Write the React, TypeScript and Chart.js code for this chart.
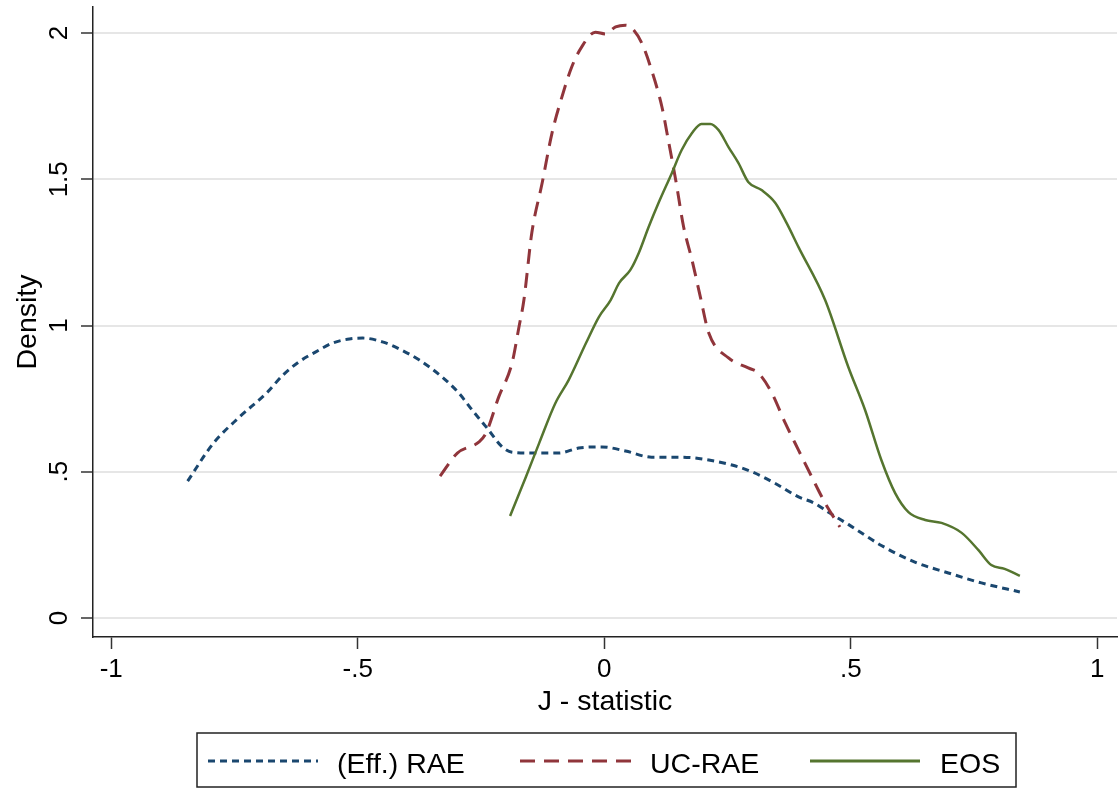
import React, { useEffect, useRef } from "react";
import { Chart, registerables } from "chart.js";

Chart.register(...registerables);

// ---- data ----
const xTickValues = [-1, -0.5, 0, 0.5, 1];
const xTickLabels = ["-1", "-.5", "0", ".5", "1"];
const yTickValues = [0, 0.5, 1, 1.5, 2];
const yTickLabels = ["0", ".5", "1", "1.5", "2"];

const seriesNames = ["(Eff.) RAE", "UC-RAE", "EOS"];

const raeX = [-0.845, -0.794, -0.74, -0.685, -0.652, -0.619, -0.585, -0.551, -0.517, -0.49, -0.45, -0.416, -0.375, -0.329, -0.295, -0.268, -0.238, -0.207, -0.187, -0.147, -0.092, -0.052, -0.005, 0.043, 0.096, 0.157, 0.212, 0.259, 0.299, 0.347, 0.394, 0.427, 0.454, 0.495, 0.562, 0.63, 0.698, 0.765, 0.843];
const raeY = [0.468, 0.595, 0.687, 0.769, 0.83, 0.876, 0.91, 0.94, 0.954, 0.957, 0.944, 0.92, 0.882, 0.824, 0.769, 0.711, 0.65, 0.585, 0.567, 0.564, 0.564, 0.581, 0.585, 0.571, 0.55, 0.55, 0.54, 0.523, 0.5, 0.46, 0.414, 0.392, 0.362, 0.32, 0.248, 0.191, 0.154, 0.12, 0.089];

const ucX = [-0.333, -0.298, -0.254, -0.24, -0.214, -0.187, -0.173, -0.163, -0.147, -0.126, -0.106, -0.086, -0.066, -0.046, -0.018, 0.002, 0.023, 0.043, 0.056, 0.076, 0.096, 0.117, 0.131, 0.145, 0.161, 0.178, 0.195, 0.212, 0.252, 0.292, 0.313, 0.34, 0.367, 0.394, 0.421, 0.448, 0.478];
const ucY = [0.485, 0.564, 0.602, 0.632, 0.756, 0.872, 0.995, 1.087, 1.316, 1.487, 1.658, 1.781, 1.884, 1.952, 2.003, 1.997, 2.021, 2.027, 2.017, 1.966, 1.873, 1.747, 1.624, 1.497, 1.337, 1.224, 1.097, 0.974, 0.889, 0.855, 0.837, 0.769, 0.667, 0.574, 0.482, 0.393, 0.311];

const eosX = [-0.191, -0.159, -0.132, -0.099, -0.072, -0.037, -0.011, 0.013, 0.03, 0.053, 0.07, 0.09, 0.11, 0.137, 0.157, 0.178, 0.197, 0.215, 0.232, 0.252, 0.272, 0.292, 0.319, 0.347, 0.37, 0.394, 0.448, 0.495, 0.529, 0.562, 0.59, 0.617, 0.651, 0.684, 0.725, 0.759, 0.785, 0.812, 0.843];
const eosY = [0.349, 0.482, 0.598, 0.735, 0.814, 0.94, 1.029, 1.087, 1.145, 1.19, 1.248, 1.337, 1.419, 1.521, 1.6, 1.658, 1.689, 1.689, 1.668, 1.61, 1.556, 1.491, 1.463, 1.419, 1.35, 1.268, 1.087, 0.858, 0.711, 0.54, 0.427, 0.362, 0.335, 0.325, 0.291, 0.232, 0.181, 0.168, 0.144];

const colors = ["#1a476f", "#90353b", "#55752f"];
const dashes: number[][] = [[7, 5], [15, 9], []];
const FONT = "'Liberation Sans', Arial, Helvetica, sans-serif";

const toPoints = (xs: number[], ys: number[]) => xs.map((x, i) => ({ x, y: ys[i] }));

const decorPlugin = {
  id: "decor",
  afterDraw(chart: any) {
    const ctx = chart.ctx as CanvasRenderingContext2D;
    const xs = chart.scales.x;
    const ys = chart.scales.y;
    ctx.save();
    ctx.fillStyle = "#000";
    // x tick labels
    ctx.font = `26px ${FONT}`;
    ctx.textAlign = "center";
    ctx.textBaseline = "alphabetic";
    xTickValues.forEach((v, i) => {
      ctx.fillText(xTickLabels[i], xs.getPixelForValue(v), 677);
    });
    // y tick labels (rotated)
    yTickValues.forEach((v, i) => {
      ctx.save();
      ctx.translate(67, ys.getPixelForValue(v));
      ctx.rotate(-Math.PI / 2);
      ctx.fillText(yTickLabels[i], 0, 0);
      ctx.restore();
    });
    // axis titles
    ctx.font = `28.5px ${FONT}`;
    ctx.fillText("J - statistic", (chart.chartArea.left + chart.chartArea.right) / 2, 710);
    ctx.save();
    ctx.translate(36, (chart.chartArea.top + chart.chartArea.bottom) / 2);
    ctx.rotate(-Math.PI / 2);
    ctx.fillText("Density", 0, 0);
    ctx.restore();
    // legend box
    ctx.strokeStyle = "#222";
    ctx.lineWidth = 1.5;
    ctx.strokeRect(197, 733, 1016 - 197, 787 - 733);
    const keyX = [[208, 318], [520, 631], [810, 920]];
    const textX = [337, 650, 940];
    ctx.font = `28.5px ${FONT}`;
    ctx.textAlign = "left";
    seriesNames.forEach((name, i) => {
      ctx.save();
      ctx.strokeStyle = colors[i];
      ctx.lineWidth = 3;
      ctx.setLineDash(dashes[i]);
      ctx.beginPath();
      ctx.moveTo(keyX[i][0], 761);
      ctx.lineTo(keyX[i][1], 761);
      ctx.stroke();
      ctx.restore();
      ctx.fillStyle = "#000";
      ctx.fillText(name, textX[i], 773);
    });
    ctx.restore();
  },
};

export default function App() {
  const ref = useRef<HTMLCanvasElement | null>(null);
  useEffect(() => {
    if (!ref.current) return;
    const datasets = [
      toPoints(raeX, raeY),
      toPoints(ucX, ucY),
      toPoints(eosX, eosY),
    ].map((data, i) => ({
      label: seriesNames[i],
      data,
      borderColor: colors[i],
      backgroundColor: colors[i],
      borderWidth: i === 2 ? 2.5 : 3,
      borderDash: dashes[i],
      pointRadius: 0,
      fill: false,
      cubicInterpolationMode: "monotone" as const,
      order: 3 - i,
    }));
    const chart = new Chart(ref.current, {
      type: "line",
      data: { datasets },
      options: {
        animation: false,
        responsive: false,
        devicePixelRatio: 1,
        layout: { padding: { left: 0, right: 2, top: 7, bottom: 0 } },
        plugins: { legend: { display: false }, tooltip: { enabled: false }, title: { display: false } },
        scales: {
          x: {
            type: "linear",
            min: -1.037,
            max: 1.04,
            afterBuildTicks: (s: any) => {
              s.ticks = xTickValues.map((v) => ({ value: v }));
            },
            afterFit: (s: any) => {
              s.height = 156;
            },
            ticks: { display: false },
            grid: { drawOnChartArea: false, drawTicks: true, tickLength: 12, tickColor: "#333", tickWidth: 1.5 },
            border: { display: true, color: "#222", width: 1.5 },
          },
          y: {
            type: "linear",
            min: -0.065,
            max: 2.089,
            afterBuildTicks: (s: any) => {
              s.ticks = yTickValues.map((v) => ({ value: v }));
            },
            afterFit: (s: any) => {
              s.width = 93;
            },
            ticks: { display: false },
            grid: { color: "#e6e6e6", lineWidth: 2, drawTicks: true, tickLength: 12, tickColor: "#333", tickWidth: 1.5 },
            border: { display: true, color: "#222", width: 1.5 },
          },
        },
      },
      plugins: [decorPlugin],
    });
    return () => chart.destroy();
  }, []);
  return (
    <div style={{ position: "fixed", left: 0, top: 0, width: 1119, height: 793, background: "#fff" }}>
      <canvas ref={ref} width={1119} height={793} style={{ width: 1119, height: 793, display: "block" }} />
    </div>
  );
}
